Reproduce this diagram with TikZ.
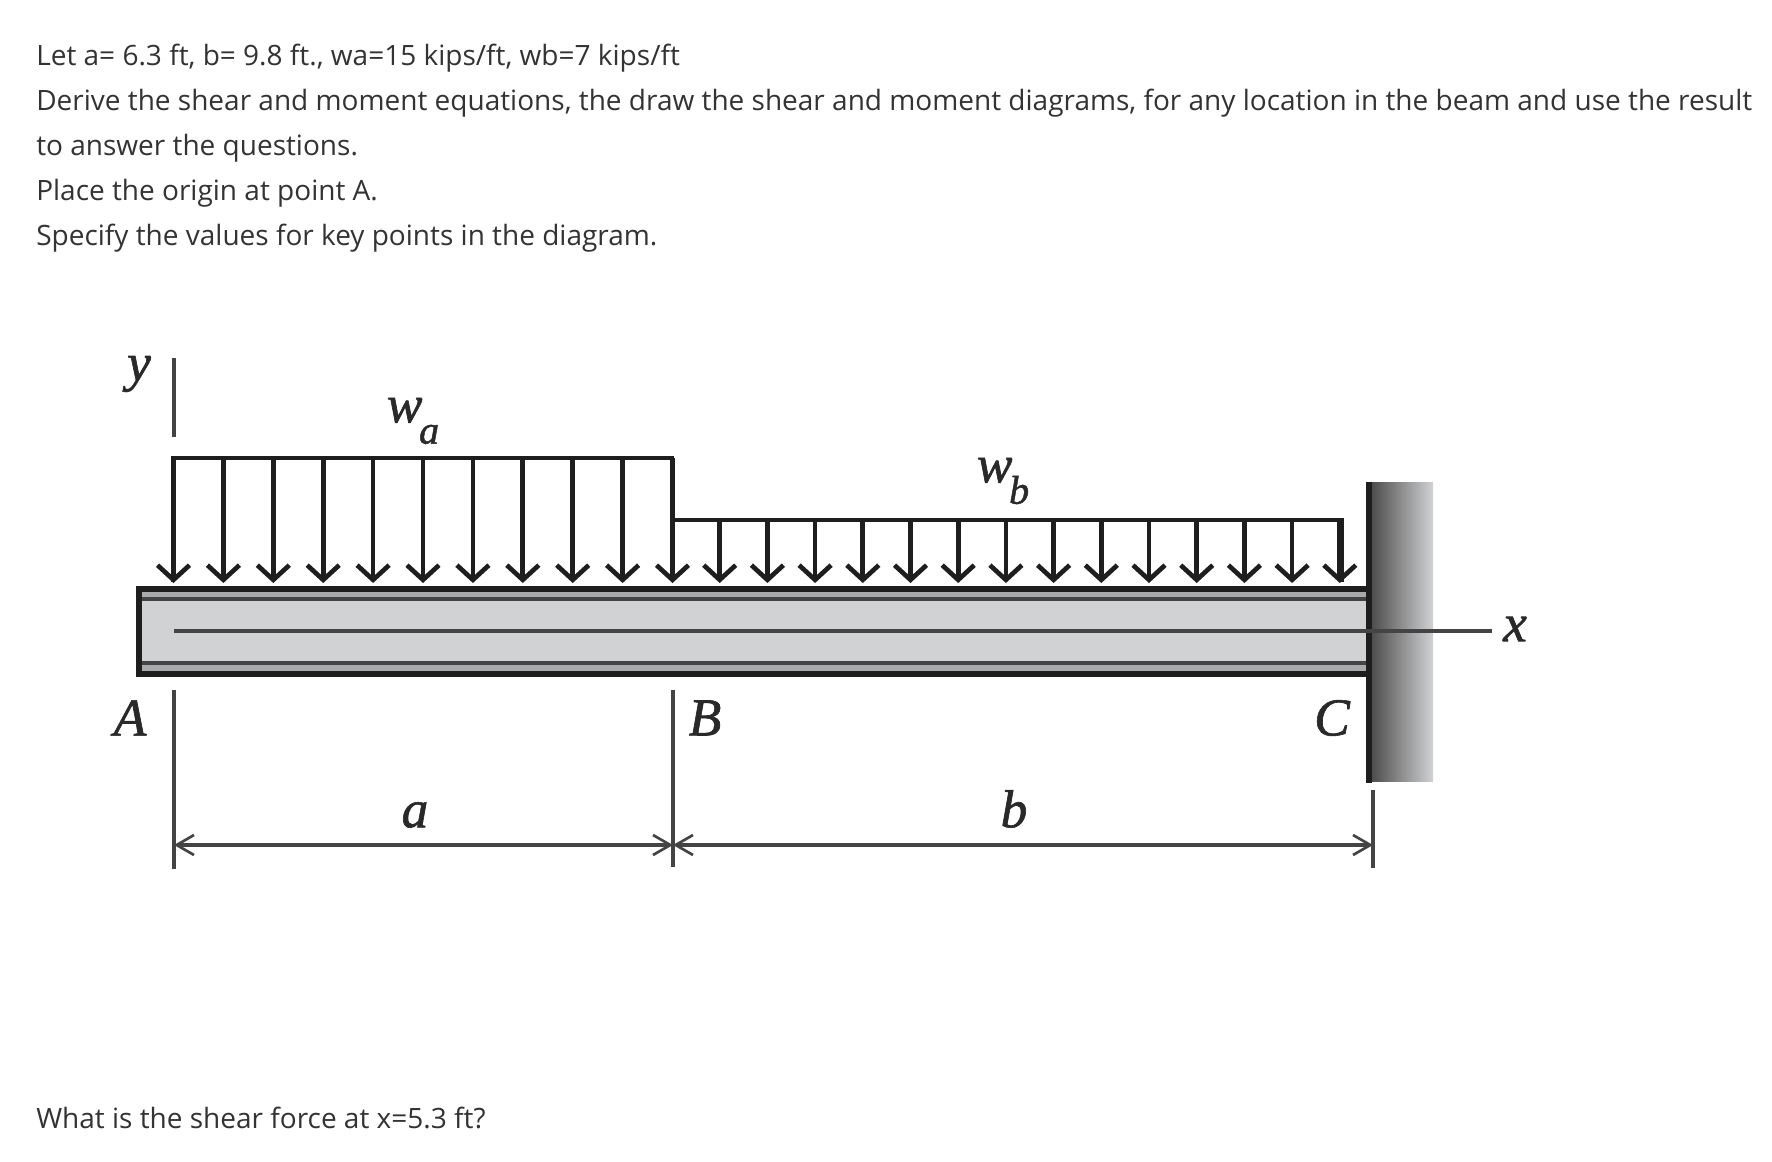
\documentclass[tikz,border=0pt]{standalone}
\usepackage{fontspec}
\setmainfont{Open Sans}
\newfontfamily\figfont{Liberation Serif}[ItalicFeatures={FakeBold=1.2}]
\usetikzlibrary{arrows.meta,positioning}
\definecolor{textgray}{HTML}{333333}
\definecolor{beamgray}{HTML}{D1D2D4}
\definecolor{flangegray}{HTML}{A9AAAC}
\definecolor{inkdark}{HTML}{1E1E1E}
\definecolor{inkthin}{HTML}{444444}
\tikzset{
    question/.style={
        anchor=base west,
        inner sep=0pt,
        text=textgray,
        font=\fontsize{21}{24}\selectfont
    },
    symbol/.style={
        inner sep=0pt,
        text=inkthin!60!black,
        font=\figfont\itshape\fontsize{40}{44}\selectfont
    },
    loadline/.style={
        draw=inkdark,
        line width=3.5pt,
        line join=miter
    },
    loadarrow/.style={
        draw=inkdark,
        line width=3.5pt,
        -{Straight Barb[length=11pt,width=24pt,line width=3.5pt]}
    },
    thinline/.style={
        draw=inkthin,
        line width=2.6pt
    },
    dimension/.style={
        draw=inkthin,
        line width=2.4pt,
        {Straight Barb[length=13pt,width=15pt,line width=2pt]}-{Straight Barb[length=13pt,width=15pt,line width=2pt]}
    },
}
\newcommand{\subfig}[1]{\kern-2.5pt\raisebox{-16pt}{\fontsize{30}{32}\selectfont #1}}
\begin{document}
\begin{tikzpicture}[x=0.75pt,y=-0.75pt]
  \useasboundingbox[fill=white] (0,0) rectangle (1772,1162);
  % Question text
  \node[question] (line1) at (36,66) {Let a= 6.3 ft, b= 9.8 ft., wa=15 kips/ft, wb=7 kips/ft};
  \node[question] (line2) at (36,111) {Derive the shear and moment equations, the draw the shear and moment diagrams, for any location in the beam and use the result};
  \node[question] (line3) at (36,156) {to answer the questions.};
  \node[question] (line4) at (36,201) {Place the origin at point A.};
  \node[question] (line5) at (36,246) {Specify the values for key points in the diagram.};
  \node[question] (line6) at (36,1128) {What is the shear force at x=5.3 ft?};
  % Key points
  \coordinate (pa) at (174,631);
  \coordinate (pb) at (673,631);
  \coordinate (pc) at (1373,631);
  \coordinate (xend) at (1492,631);
  % Wall
  \shade[left color=black!72,right color=beamgray] (1369,482) rectangle (1433,781);
  % Beam
  \fill[flangegray] (139,589) rectangle (1369,674);
  \fill[beamgray] (139,599) rectangle (1369,663);
  \draw[thinline] (139,599) -- (1369,599);
  \draw[thinline] (139,663) -- (1369,663);
  \draw[inkdark,line width=3.8pt,line join=miter] (1369,589) -- (139,589) -- (139,674) -- (1369,674);
  \draw[inkdark,line width=4.6pt] (1369,482) -- (1369,783);
  % Axes
  \draw[thinline] (pa) -- (xend);
  \draw[thinline] (174,358) -- (174,437);
  % Distributed loads
  \draw[loadline] (173,582) -- (173,458) -- (672,458) -- (672,520) -- (1342,520) -- (1342,582);
  \foreach \i in {0,...,10}
    \draw[loadarrow] ({173.5+49.9*\i},458) -- ({173.5+49.9*\i},583);
  \foreach \i in {1,...,14}
    \draw[loadarrow] ({672+47.7*\i},520) -- ({672+47.7*\i},583);
  % Dimensions
  \coordinate (da) at (174,845);
  \coordinate (db) at (673,845);
  \coordinate (dc) at (1373,845);
  \draw[thinline] (174,690) -- (174,869);
  \draw[thinline] (673,690) -- (673,867);
  \draw[thinline] (1373,790) -- (1373,868);
  \draw[dimension] (da) -- (db);
  \draw[dimension] (db) -- (dc);
  % Labels
  \node[symbol] (ylabel) at (139,374) {y};
  \node[symbol] (wa) at (413,421) {w\subfig{a}};
  \node[symbol] (wb) at (1003,481) {w\subfig{b}};
  \node[symbol] (alabel) at (130,718) {A};
  \node[symbol] (blabel) at (705,718) {B};
  \node[symbol] (clabel) at (1332,718) {C};
  \node[symbol] (adim) at (415,815) {a};
  \node[symbol] (bdim) at (1014,809) {b};
  \node[symbol] (xlabel) at (1515,629) {x};
\end{tikzpicture}
\end{document}
